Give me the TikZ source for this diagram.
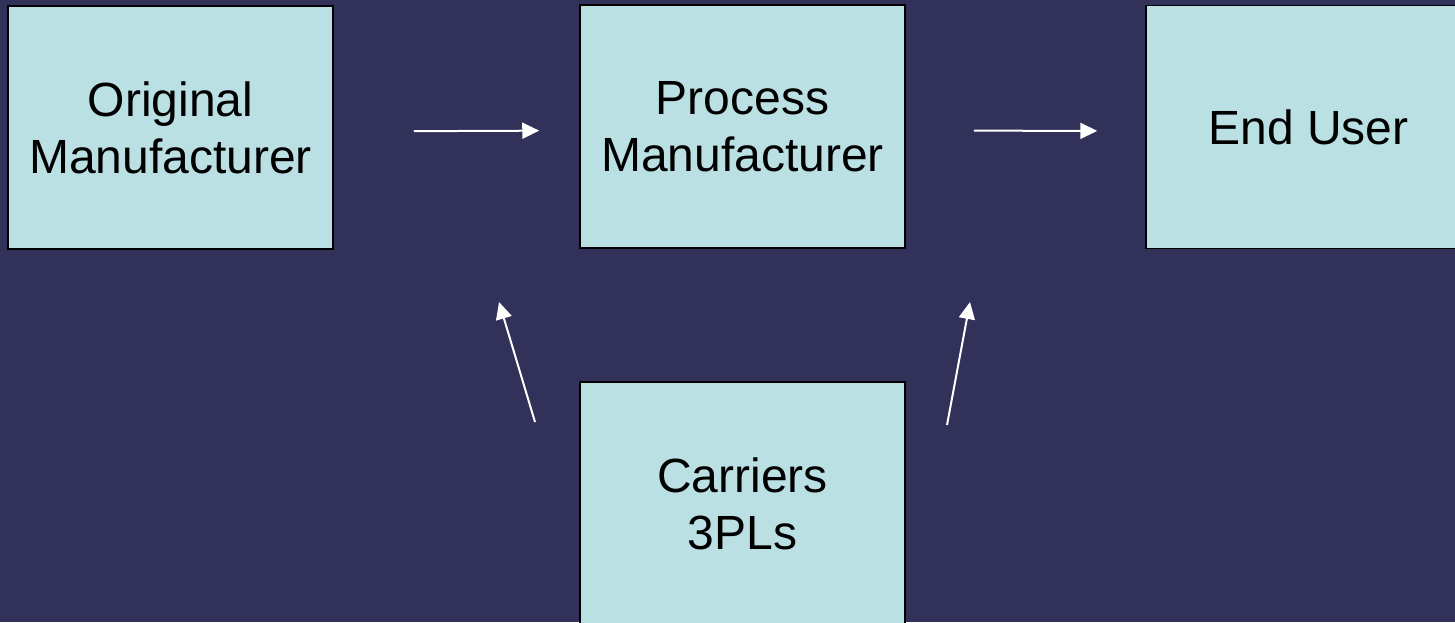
\documentclass[tikz,border=0pt]{standalone}
\usepackage{fontspec}
\setmainfont{Liberation Sans}
\usetikzlibrary{arrows.meta}
\definecolor{fond}{HTML}{31315A}
\definecolor{boite}{HTML}{BAE0E3}

\begin{document}
\begin{tikzpicture}[x=1pt,y=-1pt]
  \tikzstyle{lien}=[-{Triangle[length=17pt,width=16pt]},draw=white,fill=white,line width=2pt]
\tikzset{acteur/.style={draw=black,line width=1.5pt,fill=boite,
minimum width=325pt,minimum height=243pt,align=center,
font=\fontsize{48}{57}\selectfont}}
\fill[fond] (0,0) rectangle (1455,622);
\useasboundingbox (0,0) rectangle (1455,622);
\begin{scope}
\clip (0,0) rectangle (1455,622);
\node[acteur] (A) at (170.5,127.5){Original\\Manufacturer};
\node[acteur] (B) at (742.5,126.5){Process\\Manufacturer};
\node[acteur] (C) at (1308.5,127){End User};
\node[acteur] (D) at (742.5,503.5){Carriers\\3PLs};
\end{scope}

% fleches vers le haut (bouts libres)
\coordinate (D1) at (535,422);
\coordinate (A1) at (499,302);
\coordinate (D2) at (947,425);
\coordinate (B1) at (970,302);

\draw[lien,shorten <=80pt,shorten >=40pt] ([yshift=-4pt]A.east) -- ([yshift=-4pt]B.west);
\draw[lien,shorten <=68pt,shorten >=48pt] ([yshift=-4pt]B.east) -- ([yshift=-4pt]C.west);
\draw[lien] (D1) -- (A1);
\draw[lien] (D2) -- (B1);

\end{tikzpicture}
\end{document}
